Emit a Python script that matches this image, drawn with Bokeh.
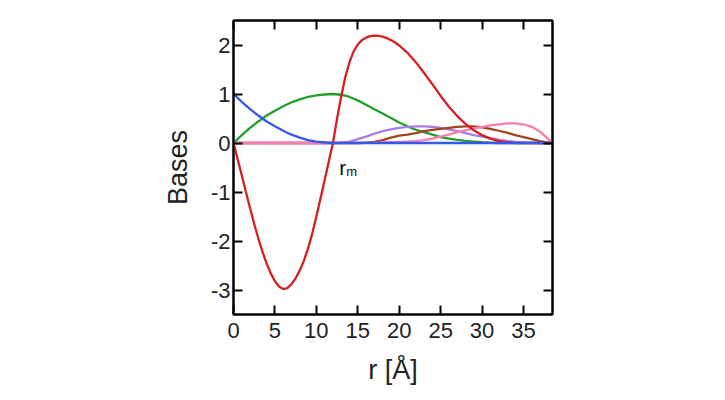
from bokeh.plotting import figure
from bokeh.models import Range1d, LinearAxis, FixedTicker
from bokeh.core.properties import value
from bokeh.embed import file_html
from bokeh.resources import INLINE

# ---- data ----
r = [0, 1, 2, 3, 4, 5, 6, 7, 8, 9, 10, 11, 12, 13, 14, 15, 16, 17, 18, 19,
     20, 21, 22, 23, 24, 25, 26, 27, 28, 29, 30, 31, 32, 33, 34, 35, 36, 37, 38, 38.5]

blue = [1.0, 0.84, 0.69, 0.56, 0.44, 0.34, 0.25, 0.17, 0.11, 0.06, 0.03, 0.01, 0.0,
        0, 0, 0, 0, 0, 0, 0, 0, 0, 0, 0, 0, 0, 0, 0, 0, 0, 0, 0, 0, 0, 0, 0, 0, 0, 0, 0]

green = [0.0, 0.16, 0.31, 0.44, 0.56, 0.66, 0.75, 0.83, 0.89, 0.94, 0.97, 0.99, 1.0,
         0.985, 0.94, 0.87, 0.78, 0.69, 0.60, 0.51, 0.42, 0.34, 0.27, 0.22, 0.17, 0.12,
         0.09, 0.065, 0.045, 0.03, 0.015, 0.005, 0, 0, 0, 0, 0, 0, 0, 0]

purple = [0, 0, 0, 0, 0, 0, 0, 0, 0, 0, 0, 0, 0,
          0.005, 0.03, 0.08, 0.13, 0.19, 0.24, 0.28, 0.31, 0.33, 0.34, 0.34, 0.33, 0.31,
          0.28, 0.24, 0.20, 0.16, 0.13, 0.10, 0.07, 0.045, 0.025, 0.01, 0.002, 0, 0, 0]

brown = [0, 0, 0, 0, 0, 0, 0, 0, 0, 0, 0, 0, 0, 0, 0, 0,
         0.005, 0.025, 0.06, 0.11, 0.15, 0.17, 0.20, 0.24, 0.27, 0.29, 0.31, 0.33, 0.34,
         0.34, 0.32, 0.29, 0.25, 0.21, 0.16, 0.12, 0.08, 0.04, 0.01, 0.0]

pink = [0, 0, 0, 0, 0, 0, 0, 0, 0, 0, 0, 0, 0, 0, 0, 0,
        0.003, 0.006, 0.01, 0.015, 0.02, 0.03, 0.04, 0.06, 0.09, 0.13, 0.17, 0.22, 0.26,
        0.30, 0.33, 0.36, 0.38, 0.40, 0.40, 0.38, 0.33, 0.23, 0.08, 0.0]

r_red = [0, 0.5, 1, 1.5, 2, 2.5, 3, 3.5, 4, 4.5, 5, 5.5, 6, 6.5, 7, 7.5, 8, 8.5, 9, 9.5,
         10, 10.5, 11, 11.5, 12, 12.5, 13, 13.5, 14, 14.5, 15, 15.5, 16, 16.5, 17, 17.5,
         18, 18.5, 19, 19.5, 20, 21, 22, 23, 24, 25, 26, 27, 28, 29, 30, 31, 32, 33, 34, 38.5]
red = [0, -0.33, -0.66, -1.0, -1.33, -1.65, -1.95, -2.22, -2.46, -2.66, -2.82, -2.93,
       -2.98, -2.96, -2.88, -2.76, -2.60, -2.40, -2.15, -1.85, -1.50, -1.13, -0.76, -0.38,
       0.0, 0.50, 0.95, 1.35, 1.65, 1.87, 2.01, 2.10, 2.15, 2.18, 2.19, 2.185,
       2.17, 2.14, 2.10, 2.05, 1.99, 1.84, 1.65, 1.43, 1.20, 0.96, 0.74, 0.55, 0.39,
       0.26, 0.16, 0.09, 0.04, 0.015, 0.0, 0.0]

x_ticks = [0, 5, 10, 15, 20, 25, 30, 35]
y_ticks = [-3, -2, -1, 0, 1, 2]
y_tick_labels = {-3: "-3", -2: "-2", -1: "-1", 0: "0", 1: "1", 2: "2"}

FONT = "Liberation Sans"

p = figure(width=725, height=400, output_backend="svg", toolbar_location=None,
           x_range=Range1d(0, 38.5), y_range=Range1d(-3.5, 2.5),
           min_border_left=233, min_border_right=173, min_border_top=20,
           min_border_bottom=86)
p.background_fill_color = "white"
p.border_fill_color = "white"
p.grid.visible = False
p.outline_line_color = "black"
p.outline_line_width = 2

lw = 2.3
p.line(r, green, line_color="#22a02a", line_width=lw)
p.line(r, purple, line_color="#a97ee8", line_width=lw)
p.line(r, brown, line_color="#a3441f", line_width=lw)
p.line(r, pink, line_color="#f57fb0", line_width=lw)
p.line(r_red, red, line_color="#d42020", line_width=lw)
p.line(r, blue, line_color="#3558ee", line_width=lw)

# r_m annotation
p.text(x=[12.75], y=[-0.49], text=["r"], text_font=value(FONT), text_font_size="21px",
       text_color="#111111", text_baseline="alphabetic", text_align="left")
p.text(x=[13.6], y=[-0.575], text=["m"], text_font=value(FONT), text_font_size="13px",
       text_color="#111111", text_baseline="alphabetic", text_align="left")

def style(ax, labels=True):
    ax.axis_line_color = "black"
    ax.axis_line_width = 2
    ax.major_tick_in = 9
    ax.major_tick_out = 0
    ax.major_tick_line_width = 2
    ax.major_tick_line_color = "black"
    ax.minor_tick_line_color = None
    ax.major_label_text_font = FONT
    ax.major_label_text_font_size = "22px"
    ax.major_label_text_color = "#222222"
    ax.axis_label_text_font = FONT
    ax.axis_label_text_font_size = "27px"
    ax.axis_label_text_font_style = "normal"
    ax.axis_label_text_color = "#222222"
    if not labels:
        ax.major_label_text_color = None

xa = p.xaxis[0]
xa.ticker = FixedTicker(ticks=x_ticks)
xa.axis_label = "r [Å]"
style(xa)
xa.major_label_standoff = 8
xa.axis_label_standoff = 14

ya = p.yaxis[0]
ya.ticker = FixedTicker(ticks=y_ticks)
ya.major_label_overrides = y_tick_labels
ya.axis_label = "Bases"
style(ya)
ya.major_label_standoff = 3
ya.axis_label_standoff = 15

top = LinearAxis(ticker=FixedTicker(ticks=x_ticks))
style(top, labels=False)
p.add_layout(top, "above")
right = LinearAxis(ticker=FixedTicker(ticks=y_ticks))
style(right, labels=False)
p.add_layout(right, "right")

open("out.html", "w").write(file_html(p, INLINE))
